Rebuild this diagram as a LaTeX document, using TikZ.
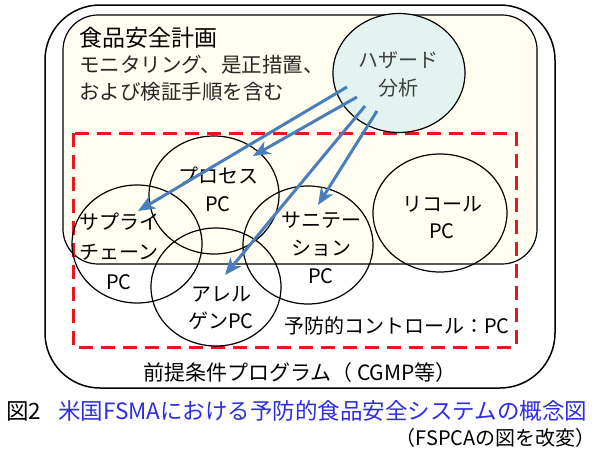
\documentclass[tikz,border=0pt]{standalone}
\usepackage{fontspec}
\setmainfont{Noto Sans CJK JP}
\usepackage{xcolor}
\usepackage{tikz}
\usetikzlibrary{shapes.geometric, arrows.meta}

\definecolor{planfill}{RGB}{255,254,240}
\definecolor{hazfill}{RGB}{226,243,240}
\definecolor{pcred}{RGB}{232,22,30}
\definecolor{flowblue}{RGB}{74,126,187}
\definecolor{capblue}{RGB}{45,45,225}

\begin{document}
\begin{tikzpicture}[x=1pt, y=-1pt, >={Stealth[length=17pt, width=14pt, inset=5pt]},
    pc/.style={draw, ellipse, line width=1.2pt, minimum width=130pt, minimum height=118pt, inner sep=0pt},
    txt/.style={align=center, inner sep=0pt, font=\fontsize{20}{28}\selectfont},
    flow/.style={->, line width=3pt, flowblue}]
    \useasboundingbox (0,0) rectangle (600,450);

    % 前提条件プログラム
    \draw[line width=1.5pt, rounded corners=55pt] (45,5) rectangle (555,388);
    % 食品安全計画
    \draw[fill=planfill, line width=1.2pt, rounded corners=35pt] (63,15) rectangle (537,264);
    \draw[pcred, line width=3pt, dash pattern=on 14pt off 8pt] (73,133) rectangle (516,347);

    \node[pc] (process) at (214,195) {};
    \node[pc] (supply) at (137,244) {};
    \node[pc] (allergen) at (216,287) {};
    \node[pc] (sanitation) at (308,245) {};
    \node[pc, minimum width=134pt] (recall) at (440,213) {};
    \node[pc, fill=hazfill, minimum width=132pt, minimum height=119pt] (hazard) at (399,73) {};

    \node[txt, anchor=west, font=\fontsize{23}{28}\selectfont] (plan) at (79,38) {食品安全計画};
    \node[txt, anchor=west, align=left, text=black!85, font=\fontsize{20.5}{27}\selectfont] (plandesc) at (79,78)
        {モニタリング、是正措置、\\および検証手順を含む};
    \node[txt, text=black!75] (haztext) at (398,74) {ハザード\\分析};

    \node[txt] (processtext) at (218,189) {プロセス\\PC};
    \node[txt, font=\fontsize{20}{30}\selectfont] (supplytext) at (119,251) {サプライ\\チェーン\\PC};
    \node[txt, font=\fontsize{20}{27}\selectfont] (allergentext) at (221,308) {アレル\\ゲンPC};
    \node[txt] (sanitationtext) at (321,248) {サニテー\\ション\\PC};
    \node[txt, font=\fontsize{20}{27}\selectfont] (recalltext) at (442,218) {リコール\\PC};

    \node[txt] (pclabel) at (397,326) {予防的コントロール：PC};
    \node[txt, font=\fontsize{21}{28}\selectfont] (prereq) at (300,373) {前提条件プログラム（ CGMP等）};

    % 矢印
    \coordinate (h1) at (347,87);
    \coordinate (h2) at (357,97);
    \coordinate (h3) at (365,106);
    \coordinate (h4) at (377,111);
    \coordinate (t1) at (138,211);
    \coordinate (t2) at (253,156);
    \coordinate (t3) at (225,275);
    \coordinate (t4) at (318,205);
    \draw[flow] (h1) -- (t1);
    \draw[flow] (h2) -- (t2);
    \draw[flow] (h3) -- (t3);
    \draw[flow] (h4) -- (t4);

    % 図の見出し
    \node[txt, anchor=west, font=\fontsize{22.5}{28}\selectfont] (caption) at (6,411)
        {図2\hspace{17pt}{\color{capblue}米国FSMAにおける予防的食品安全システムの概念図}};
    \node[txt, anchor=east] (source) at (596,438) {（FSPCAの図を改変）};
\end{tikzpicture}
\end{document}
